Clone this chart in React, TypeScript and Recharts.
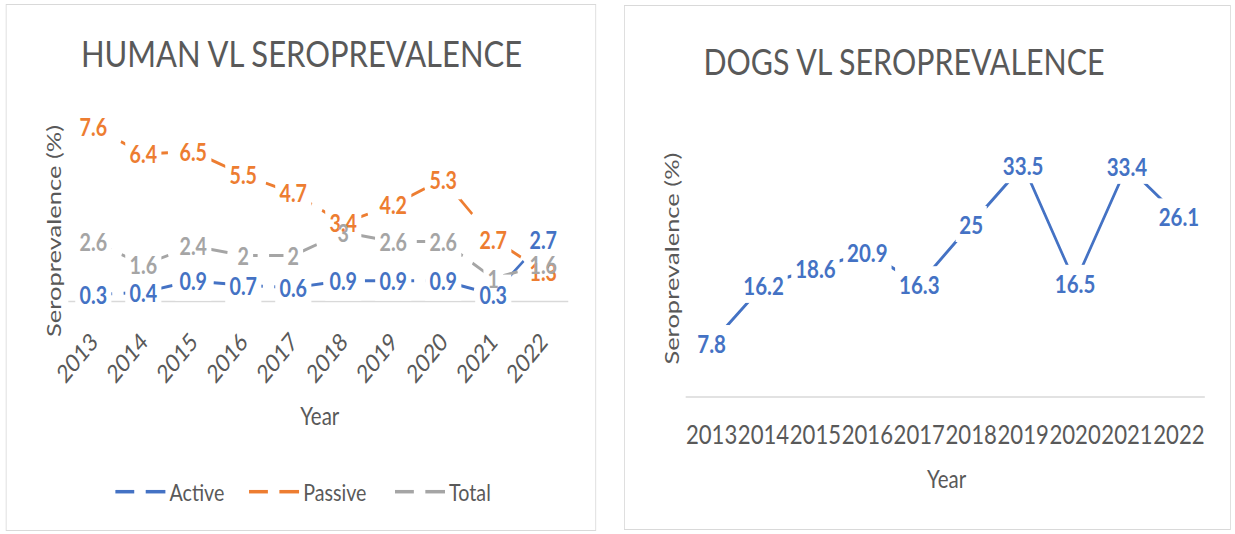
import { LineChart, Line, XAxis, YAxis, LabelList } from 'recharts';

// Two Excel-style line charts: human VL seroprevalence (3 series) and dogs VL seroprevalence.

const years = ['2013', '2014', '2015', '2016', '2017', '2018', '2019', '2020', '2021', '2022'];
const activeValues = [0.3, 0.4, 0.9, 0.7, 0.6, 0.9, 0.9, 0.9, 0.3, 2.7];
const passiveValues = [7.6, 6.4, 6.5, 5.5, 4.7, 3.4, 4.2, 5.3, 2.7, 1.3];
const totalValues = [2.6, 1.6, 2.4, 2, 2, 3, 2.6, 2.6, 1, 1.6];
const dogValues = [7.8, 16.2, 18.6, 20.9, 16.3, 25, 33.5, 16.5, 33.4, 26.1];

const humanSeries = [
  { key: 'active', name: 'Active', color: '#4472C4' },
  { key: 'passive', name: 'Passive', color: '#ED7D31' },
  { key: 'total', name: 'Total', color: '#A5A5A5' },
];

const humanData = years.map((year, i) => ({
  year,
  active: activeValues[i],
  passive: passiveValues[i],
  total: totalValues[i],
}));
const dogData = years.map((year, i) => ({ year, dogs: dogValues[i] }));

const FONT = 'Lato, "Open Sans", sans-serif';
const TEXT = '#595959';
const BORDER = '#d9d9d9';
// the picture is squeezed horizontally, so everything is laid out wider and scaled back
const SX = 0.82;
const WIDE = 1235 / SX;

const textWidth = (s: string, fs: number) =>
  [...s].reduce((w, c) => w + (c === '.' ? 0.26 : 0.58), 0) * fs;

const labelBox = (fs: number, padX: number, h: number) => (props: any) => {
  const x = props.x ?? props.viewBox?.x;
  const y = props.y ?? props.viewBox?.y;
  const w = textWidth(String(props.value), fs) + padX;
  return <rect x={x - w / 2} y={y - h / 2} width={w} height={h} fill="#fff" />;
};

const labelText = (fs: number, color: string) => (props: any) => {
  const x = props.x ?? props.viewBox?.x;
  const y = props.y ?? props.viewBox?.y;
  return (
    <text x={x} y={y} textAnchor="middle" dominantBaseline="central" fontSize={fs}
      fontWeight={700} fill={color} fontFamily={FONT}>
      {props.value}
    </text>
  );
};

const HumanTick = ({ x, y, payload }: any) => {
  const px = x + 7;
  const py = y + 42;
  return (
    <text x={px} y={py} transform={`rotate(-45 ${px} ${py})`} textAnchor="end"
      fontSize={25} fill={TEXT} fontFamily={FONT}>
      {payload.value}
    </text>
  );
};

const DogTick = ({ x, y, payload }: any) => (
  <text x={x} y={y + 37} textAnchor="middle" dominantBaseline="central"
    fontSize={27} fill={TEXT} fontFamily={FONT}>
    {payload.value}
  </text>
);

function HumanChart() {
  return (
    <LineChart width={740} height={534} data={humanData}
      margin={{ top: 117.1, right: 47, bottom: 172.5, left: 83.3 }}>
      <XAxis dataKey="year" height={60} interval={0} tickSize={0} tickMargin={0}
        tickLine={false} axisLine={{ stroke: BORDER, strokeWidth: 1.5 }}
        padding={{ left: 30.5, right: 30.5 }} tick={<HumanTick />} />
      <YAxis hide domain={[0, 8]} />
      {humanSeries.map((s) => (
        <Line key={s.key} dataKey={s.key} stroke={s.color} strokeWidth={3}
          strokeDasharray="23 14" dot={false} activeDot={false} isAnimationActive={false} />
      ))}
      {humanSeries.map((s) => (
        <Line key={s.key + '-box'} dataKey={s.key} stroke="none" legendType="none"
          dot={false} activeDot={false} isAnimationActive={false}>
          <LabelList dataKey={s.key} content={labelBox(24, 10, 40)} />
        </Line>
      ))}
      {humanSeries.map((s) => (
        <Line key={s.key + '-text'} dataKey={s.key} stroke="none" legendType="none"
          dot={false} activeDot={false} isAnimationActive={false}>
          <LabelList dataKey={s.key} content={labelText(24, s.color)} />
        </Line>
      ))}
    </LineChart>
  );
}

function DogChart() {
  return (
    <LineChart width={740} height={534} data={dogData}
      margin={{ top: 120.2, right: 31.7, bottom: 77, left: 75.2 }}>
      <XAxis dataKey="year" height={60} interval={0} tickSize={0} tickMargin={0}
        tickLine={false} axisLine={{ stroke: BORDER, strokeWidth: 1.5 }}
        padding={{ left: 31.6, right: 31.6 }} tick={<DogTick />} />
      <YAxis hide domain={[0, 40]} />
      <Line dataKey="dogs" stroke="#4472C4" strokeWidth={3.2} dot={false}
        activeDot={false} isAnimationActive={false} />
      <Line dataKey="dogs" stroke="none" legendType="none" dot={false}
        activeDot={false} isAnimationActive={false}>
        <LabelList dataKey="dogs" content={labelBox(25, 9, 36)} />
      </Line>
      <Line dataKey="dogs" stroke="none" legendType="none" dot={false}
        activeDot={false} isAnimationActive={false}>
        <LabelList dataKey="dogs" content={labelText(25, '#4472C4')} />
      </Line>
    </LineChart>
  );
}

const legendX = [140.7, 303.7, 481.7];

function Decorations() {
  return (
    <svg width={WIDE} height={534} style={{ position: 'absolute', left: 0, top: 0 }}
      fontFamily={FONT}>
      <text x={367.7} y={67} textAnchor="middle" fontSize={37} fill={TEXT}
        textLength={538} lengthAdjust="spacingAndGlyphs">HUMAN VL SEROPREVALENCE</text>
      <text x={1102.4} y={75} textAnchor="middle" fontSize={36} fill={TEXT}
        textLength={489} lengthAdjust="spacingAndGlyphs">DOGS VL SEROPREVALENCE</text>

      <text x={65.4} y={231} transform="rotate(-90 65.4 231)" textAnchor="middle"
        dominantBaseline="central" fontSize={24} fill={TEXT}
        textLength={212} lengthAdjust="spacingAndGlyphs">Seroprevalence (%)</text>
      <text x={818.5} y={258.6} transform="rotate(-90 818.5 258.6)" textAnchor="middle"
        dominantBaseline="central" fontSize={24} fill={TEXT}
        textLength={212} lengthAdjust="spacingAndGlyphs">Seroprevalence (%)</text>

      <text x={390} y={415} textAnchor="middle" dominantBaseline="central"
        fontSize={25} fill={TEXT}>Year</text>
      <text x={1154.4} y={478} textAnchor="middle" dominantBaseline="central"
        fontSize={25} fill={TEXT}>Year</text>

      {humanSeries.map((s, i) => {
        const x = legendX[i];
        return (
          <g key={s.key}>
            <line x1={x} x2={x + 23} y1={491.7} y2={491.7} stroke={s.color} strokeWidth={3.5} />
            <line x1={x + 37} x2={x + 61} y1={491.7} y2={491.7} stroke={s.color} strokeWidth={3.5} />
            <text x={x + 66} y={491.7} dominantBaseline="central" fontSize={24} fill={TEXT}>
              {s.name}
            </text>
          </g>
        );
      })}
    </svg>
  );
}

export default function App() {
  return (
    <div style={{ position: 'absolute', left: 0, top: 0, width: 1235, height: 534,
      overflow: 'hidden', background: '#fff' }}>
      <div style={{ position: 'relative', width: WIDE, height: 534,
        transform: `scaleX(${SX})`, transformOrigin: '0 0' }}>
        <div style={{ position: 'absolute', left: 6 / SX, top: 4, width: 590 / SX, height: 527,
          boxSizing: 'border-box', border: `1px solid ${BORDER}`,
          borderLeftWidth: 1.3, borderRightWidth: 1.3 }} />
        <div style={{ position: 'absolute', left: 624 / SX, top: 5, width: 607 / SX, height: 525,
          boxSizing: 'border-box', border: `1px solid ${BORDER}`,
          borderLeftWidth: 1.3, borderRightWidth: 1.3 }} />
        <div style={{ position: 'absolute', left: 0, top: 0 }}>
          <HumanChart />
        </div>
        <div style={{ position: 'absolute', left: 761, top: 0 }}>
          <DogChart />
        </div>
        <Decorations />
      </div>
    </div>
  );
}
